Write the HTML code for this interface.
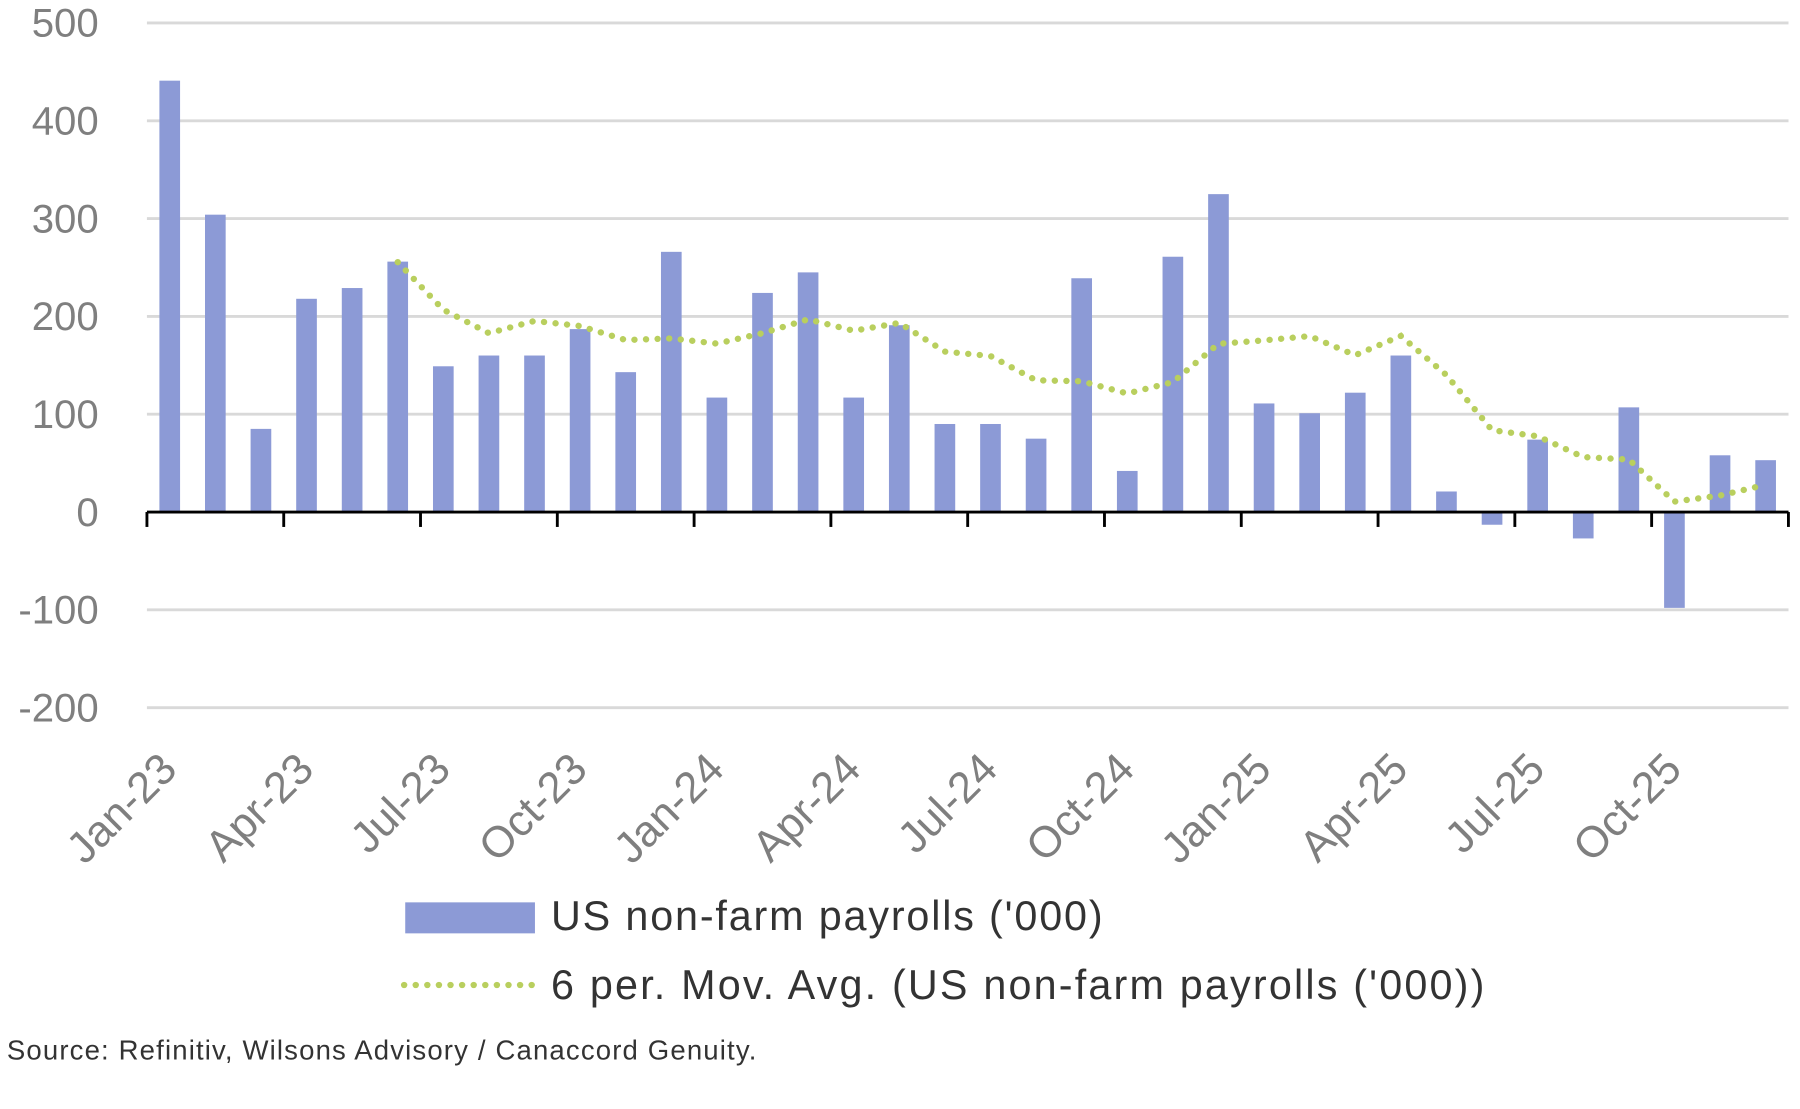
<!DOCTYPE html>
<html><head><meta charset="utf-8"><style>
html,body{margin:0;padding:0;background:#fff;width:1800px;height:1109px;overflow:hidden}
svg{display:block}
text{font-family:"Liberation Sans",sans-serif}
</style></head><body>
<svg id="c" width="1800" height="1109" viewBox="0 0 1568 966" preserveAspectRatio="none" xmlns="http://www.w3.org/2000/svg"></svg>
<script>
const v=[441,304,85,218,229,256,149,160,160,187,143,266,117,224,245,117,191,90,90,75,239,42,261,325,111,101,122,160,21,-13,74,-27,107,-98,58,53];
const Y=x=>446-0.852*x, X=i=>128+39.72*(i+0.5);
let s='';
[500,400,300,200,100,-100,-200].forEach(t=>{s+=`<line x1="128" x2="1558" y1="${Y(t)}" y2="${Y(t)}" stroke="#d9d9d9" stroke-width="2.5"/>`});
[500,400,300,200,100,0,-100,-200].forEach(t=>{s+=`<text x="86" y="${Y(t)+12}" text-anchor="end" font-size="35" fill="#7f7f7f">${t}</text>`});
v.forEach((d,i)=>{const y=Math.min(Y(d),Y(0));s+=`<rect x="${X(i)-9}" y="${y}" width="18" height="${Math.abs(Y(d)-Y(0))}" fill="#8c9ad6"/>`});
s+=`<line x1="128" x2="1558" y1="${Y(0)}" y2="${Y(0)}" stroke="#000" stroke-width="2.5"/>`;
const labs=['Jan-23','Apr-23','Jul-23','Oct-23','Jan-24','Apr-24','Jul-24','Oct-24','Jan-25','Apr-25','Jul-25','Oct-25'];
for(let k=0;k<=12;k++){const x=128+39.72*3*k;s+=`<line x1="${x}" x2="${x}" y1="${Y(0)}" y2="${Y(0)+13}" stroke="#000" stroke-width="2.5"/>`;
if(k<12){const lx=x+28,ly=672;s+=`<text transform="translate(${lx},${ly}) rotate(-45)" text-anchor="end" font-size="38" fill="#7f7f7f">${labs[k]}</text>`;}}
let p=[];for(let i=5;i<36;i++){let m=0;for(let j=i-5;j<=i;j++)m+=v[j];p.push(X(i)+','+Y(m/6));}
s+=`<polyline points="${p.join(' ')}" fill="none" stroke="#b9cf5e" stroke-width="5.5" stroke-dasharray="0.1 10" stroke-linecap="round"/>`;
s+=`<rect x="353" y="786" width="113" height="27" fill="#8c9ad6"/>`;
s+=`<text x="480" y="810" font-size="36" letter-spacing="1.6" fill="#333">US non-farm payrolls ('000)</text>`;
s+=`<line x1="352" x2="466" y1="858" y2="858" stroke="#b9cf5e" stroke-width="5.5" stroke-dasharray="0.1 10" stroke-linecap="round"/>`;
s+=`<text x="480" y="870" font-size="36" letter-spacing="1.9" fill="#333">6 per. Mov. Avg. (US non-farm payrolls ('000))</text>`;
s+=`<text x="6" y="923" font-size="24" letter-spacing="1" fill="#333">Source: Refinitiv, Wilsons Advisory / Canaccord Genuity.</text>`;
document.getElementById('c').innerHTML=s;
</script>
</body></html>
